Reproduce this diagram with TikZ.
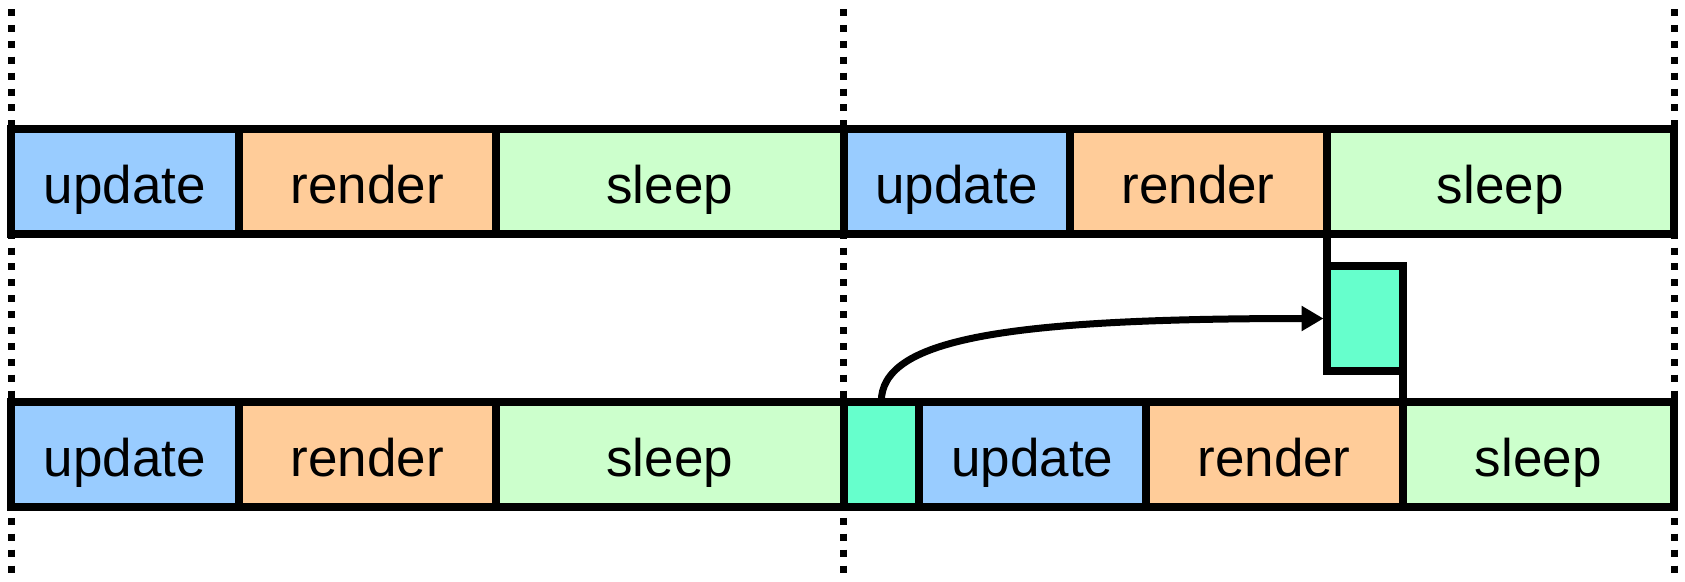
\documentclass[tikz,border=0pt]{standalone}
\usepackage{fontspec}
\setmainfont{Liberation Sans}
\usetikzlibrary{arrows.meta}
\definecolor{cupd}{HTML}{99CCFF}
\definecolor{cren}{HTML}{FFCC99}
\definecolor{csle}{HTML}{CCFFCC}
\definecolor{cmsg}{HTML}{66FFCC}
\tikzset{
  seg/.style={draw=black, line width=8pt, inner sep=0pt, outer sep=0pt,
    minimum height=105pt, text height=43pt, text depth=0pt,
    font=\fontsize{53}{60}\selectfont},
  guide/.style={line width=7pt, dash pattern=on 7pt off 8.9pt},
  link/.style={line width=8pt},
  msgarrow/.style={line width=7pt, -{Triangle[length=22pt,width=24pt]}, shorten >=3pt}
}
\begin{document}
\begin{tikzpicture}[x=1pt,y=-1pt]
\useasboundingbox[fill=white] (0,0) rectangle (1685,581);
% guides
\draw[guide] (11.5,9) -- (11.5,581);
\draw[guide] (843.3,9) -- (843.3,581);
\draw[guide] (1674,9) -- (1674,581);
% top row
\node[seg, fill=cupd, minimum width=227.5pt] (tu1) at (124.75,181.5) {update};
\node[seg, fill=cren, minimum width=257.5pt] (tr1) at (367.25,181.5) {render};
\node[seg, fill=csle, minimum width=347.5pt] (ts1) at (669.75,181.5) {sleep};
\node[seg, fill=cupd, minimum width=226pt] (tu2) at (956.5,181.5) {update};
\node[seg, fill=cren, minimum width=257pt] (tr2) at (1198,181.5) {render};
\node[seg, fill=csle, minimum width=347.5pt] (ts2) at (1500.25,181.5) {sleep};
% bottom row
\node[seg, fill=cupd, minimum width=227.5pt] (bu1) at (124.75,454.5) {update};
\node[seg, fill=cren, minimum width=257.5pt] (br1) at (367.25,454.5) {render};
\node[seg, fill=csle, minimum width=347.5pt] (bs1) at (669.75,454.5) {sleep};
\node[seg, fill=cmsg, minimum width=75.5pt] (bm) at (881.25,454.5) {};
\node[seg, fill=cupd, minimum width=226.5pt] (bu2) at (1032.25,454.5) {update};
\node[seg, fill=cren, minimum width=257pt] (br2) at (1274,454.5) {render};
\node[seg, fill=csle, minimum width=271.5pt] (bs2) at (1538.25,454.5) {sleep};
% middle message box
\node[seg, fill=cmsg, minimum width=76pt] (sm) at (1364.5,318.5) {};
% connectors
\draw[link] (ts2.south west) -- (sm.north west);
\draw[link] (sm.south east) -- (bs2.north west);
\draw[msgarrow] (bm.north) .. controls +(0,-62) and +(-327,0) .. (sm.west);
\end{tikzpicture}
\end{document}
